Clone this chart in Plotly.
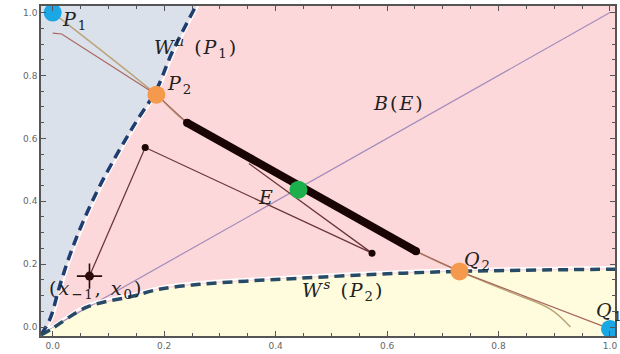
import plotly.graph_objects as go

# ---------------- data ----------------
# unstable manifold W^u(P1) (dashed, left)
wu_x = [-0.021, -0.005, 0.0125, 0.030, 0.054, 0.084, 0.120, 0.152, 0.186, 0.214, 0.257]
wu_y = [-0.025, 0.025, 0.130, 0.225, 0.333, 0.447, 0.564, 0.659, 0.754, 0.872, 1.021]
# stable manifold W^s(P2) (dashed, bottom)
ws_x = [-0.021, -0.002, 0.061, 0.143, 0.191, 0.263, 0.346, 0.441, 0.584, 0.727, 1.009]
ws_y = [-0.025, -0.006, 0.063, 0.098, 0.120, 0.136, 0.146, 0.155, 0.168, 0.177, 0.184]
# diagonal B(E)
be_x = [-0.021, 1.0]
be_y = [-0.021, 1.0]
# brown curve (starts near top-left, runs through P2, Q2 to Q1)
br_x = [0.0, 0.016, 0.186, 0.241, 0.652, 0.730, 1.0]
br_y = [0.935, 0.932, 0.739, 0.650, 0.241, 0.177, -0.006]
# tan curve (P1 -> P2 -> Q2 -> bends down)
tn_x = [0.0, 0.186, 0.241, 0.652, 0.730, 0.821, 0.893, 0.929]
tn_y = [1.0, 0.739, 0.650, 0.241, 0.177, 0.111, 0.057, 0.0]
# thick black segment
seg_x = [0.241, 0.652]
seg_y = [0.650, 0.241]
# trajectory
tr_x = [0.066, 0.166, 0.573, 0.352]
tr_y = [0.162, 0.571, 0.235, 0.520]
# fixed / periodic points
pt_names = ["P1", "P2", "Q2", "Q1", "E"]
pt_x = [0.0, 0.186, 0.730, 1.0, 0.441]
pt_y = [1.0, 0.739, 0.177, -0.006, 0.437]
pt_col = ["#1ba6e6", "#f5994c", "#f5994c", "#1ba6e6", "#1bb04c"]

# labels
lab_text = ["<i>P</i><sub>1</sub>", "<i>W</i><sup><i>u</i></sup> (<i>P</i><sub>1</sub>)",
            "<i>P</i><sub>2</sub>", "<i>B</i>(<i>E</i>)", "<i>E</i>",
            "(<i>x</i><sub>−1</sub>, <i>x</i><sub>0</sub>)",
            "<i>W</i><sup><i>s</i></sup> (<i>P</i><sub>2</sub>)",
            "<i>Q</i><sub>2</sub>", "<i>Q</i><sub>1</sub>"]
lab_x = [0.040, 0.258, 0.228, 0.622, 0.383, 0.077, 0.522, 0.764, 1.0]
lab_y = [0.975, 0.890, 0.772, 0.712, 0.415, 0.118, 0.115, 0.212, 0.050]

X0, X1 = -0.021, 1.009
Y0, Y1 = -0.0285, 1.021

fig = go.Figure()

# region fills
fig.add_trace(go.Scatter(x=[X0 - 0.05] + wu_x + [wu_x[-1], X0 - 0.05],
                         y=[Y0 - 0.05] + wu_y + [Y1 + 0.05, Y1 + 0.05],
                         fill="toself", fillcolor="#dbe1ea", line=dict(width=0),
                         mode="lines", hoverinfo="skip"))
fig.add_trace(go.Scatter(x=[X0 - 0.05] + ws_x + [X1 + 0.05, X1 + 0.05],
                         y=[Y0 - 0.05] + ws_y + [ws_y[-1], Y0 - 0.05],
                         fill="toself", fillcolor="#fefcdc", line=dict(width=0),
                         mode="lines", hoverinfo="skip"))

# diagonal
fig.add_trace(go.Scatter(x=be_x, y=be_y, mode="lines",
                         line=dict(color="#a48cbc", width=1.2)))
# light edge on the pink side of the manifolds
fig.add_trace(go.Scatter(x=[v + 0.004 for v in wu_x], y=wu_y, mode="lines",
                         line_shape="spline", line=dict(color="white", width=2)))
fig.add_trace(go.Scatter(x=ws_x, y=[v + 0.007 for v in ws_y], mode="lines",
                         line_shape="spline", line=dict(color="white", width=2)))
# manifolds
fig.add_trace(go.Scatter(x=wu_x, y=wu_y, mode="lines", line_shape="spline",
                         line=dict(color="#1f3d70", width=3.5, dash="10px,6px")))
fig.add_trace(go.Scatter(x=ws_x, y=ws_y, mode="lines", line_shape="spline",
                         line=dict(color="#274a66", width=3.5, dash="10px,6px")))
# curves
fig.add_trace(go.Scatter(x=tn_x, y=tn_y, mode="lines", line_shape="spline",
                         line=dict(color="#b9a57a", width=1.5)))
fig.add_trace(go.Scatter(x=br_x, y=br_y, mode="lines",
                         line=dict(color="#a9675e", width=1.2)))
# thick segment
fig.add_trace(go.Scatter(x=seg_x, y=seg_y, mode="lines+markers",
                         line=dict(color="#1a0505", width=8),
                         marker=dict(color="#1a0505", size=8)))
# trajectory
fig.add_trace(go.Scatter(x=tr_x, y=tr_y, mode="lines",
                         line=dict(color="#6a3838", width=1.3)))
fig.add_trace(go.Scatter(x=tr_x[1:3], y=tr_y[1:3], mode="markers",
                         marker=dict(color="#1a0505", size=7)))
fig.add_trace(go.Scatter(x=tr_x[:1], y=tr_y[:1], mode="markers",
                         marker=dict(symbol="cross-thin-open", size=18, color="#2a0a0a",
                                     line=dict(color="#2a0a0a", width=1.6))))
fig.add_trace(go.Scatter(x=tr_x[:1], y=tr_y[:1], mode="markers",
                         marker=dict(symbol="circle", size=9, color="#2a0a0a")))
# points
fig.add_trace(go.Scatter(x=pt_x, y=pt_y, mode="markers", text=pt_names,
                         marker=dict(color=pt_col, size=18, line=dict(width=0))))

for t, x, y in zip(lab_text, lab_x, lab_y):
    fig.add_annotation(x=x, y=y, text="<span style='letter-spacing:2px'>" + t + "</span>",
                       showarrow=False,
                       font=dict(family="DejaVu Serif", size=19, color="#222"))

axis_common = dict(showgrid=False, zeroline=False, showline=True, linecolor="#555",
                   linewidth=1.5, mirror="allticks", ticks="inside", ticklen=5,
                   tickcolor="#555", tickformat=".1f", dtick=0.2,
                   tickfont=dict(family="DejaVu Sans", size=9, color="#666"),
                   minor=dict(dtick=0.05, ticks="inside", ticklen=3, tickcolor="#555"))

fig.update_xaxes(range=[X0, X1], tick0=0, **axis_common)
fig.update_yaxes(range=[Y0, Y1], tick0=0, **axis_common)

fig.update_layout(width=620, height=354, showlegend=False,
                  margin=dict(l=41, r=3, t=6, b=17),
                  plot_bgcolor="#fdd8da", paper_bgcolor="white")

fig.write_html("out.html", config={"displayModeBar": False},
               post_script="document.body.style.margin='0';document.body.style.overflow='hidden';")
